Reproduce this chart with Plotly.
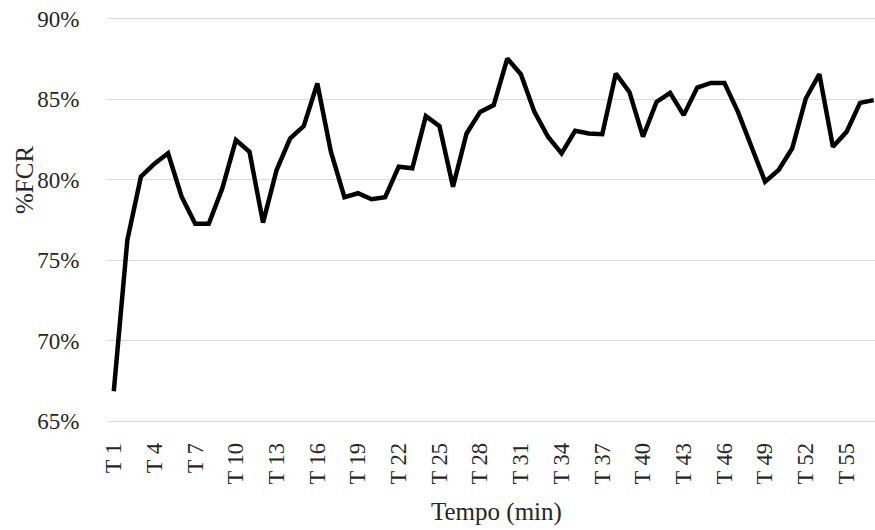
import plotly.graph_objects as go

categories = [f"T {i}" for i in range(1, 58)]
fcr_values = [
    66.87, 76.26, 80.19, 81.00, 81.64, 78.95, 77.26, 77.26, 79.47, 82.46,
    81.74, 77.34, 80.60, 82.57, 83.33, 85.97, 81.74, 78.91, 79.16, 78.79,
    78.91, 80.81, 80.71, 83.95, 83.33, 79.57, 82.87, 84.21, 84.63, 87.52,
    86.55, 84.21, 82.67, 81.64, 83.04, 82.87, 82.83, 86.59, 85.45, 82.67,
    84.83, 85.39, 84.01, 85.72, 86.01, 86.01, 84.21, 82.04, 79.88, 80.60,
    81.95, 85.04, 86.55, 82.04, 82.97, 84.77, 84.94,
]
tick_labels = categories[::3]
y_ticks = [65, 70, 75, 80, 85, 90]
y_tick_text = [f"{v}%" for v in y_ticks]

FONT = "Liberation Serif, Times New Roman, serif"

fig = go.Figure()
fig.add_trace(go.Scatter(
    x=categories, y=fcr_values, mode="lines",
    line=dict(color="black", width=4.5),
    showlegend=False,
))

# body margin is removed in the page, so figure coords == page coords
FIG_W, FIG_H = 875, 530
M_L, M_R, M_T, M_B = 107, 0, 17, 107
PLOT_W = FIG_W - M_L - M_R
PLOT_H = FIG_H - M_T - M_B
Y0, Y1 = 64.9, 90.1


def yfrac(page_y):
    return 1 - (page_y - M_T) / PLOT_H


def xfrac(page_x):
    return (page_x - M_L) / PLOT_W


fig.update_layout(
    width=FIG_W, height=FIG_H,
    margin=dict(l=M_L, r=M_R, t=M_T, b=M_B),
    paper_bgcolor="white", plot_bgcolor="white",
    font=dict(family=FONT, color="#262626", size=22),
    xaxis=dict(
        type="category",
        range=[-0.5, 56.1],
        tickvals=tick_labels, ticktext=tick_labels,
        tickangle=-90,
        tickfont=dict(size=22.5, family=FONT, color="#262626"),
        showgrid=False, showline=False, zeroline=False,
        ticks="outside", ticklen=10, tickcolor="rgba(0,0,0,0)",
    ),
    yaxis=dict(
        range=[Y0, Y1],
        tickvals=y_ticks, ticktext=y_tick_text,
        tickfont=dict(size=23, family=FONT, color="#262626"),
        showgrid=True, gridcolor="#d9d9d9", gridwidth=1,
        zeroline=False, showline=False,
        ticks="outside", ticklen=22, tickcolor="rgba(0,0,0,0)",
        ticklabeloverflow="allow",
    ),
    annotations=[
        dict(text="Tempo (min)", xref="paper", yref="paper",
             x=xfrac(496), y=yfrac(512),
             showarrow=False, xanchor="center", yanchor="middle",
             font=dict(size=25, family=FONT, color="#262626")),
        dict(text="%FCR", xref="paper", yref="paper",
             x=xfrac(24), y=yfrac(180),
             showarrow=False, xanchor="center", yanchor="middle",
             textangle=-90,
             font=dict(size=25, family=FONT, color="#262626")),
    ],
)

fig.write_html(
    "out.html",
    config={"displayModeBar": False},
    post_script="document.body.style.margin='0';document.body.style.overflow='hidden';",
)
